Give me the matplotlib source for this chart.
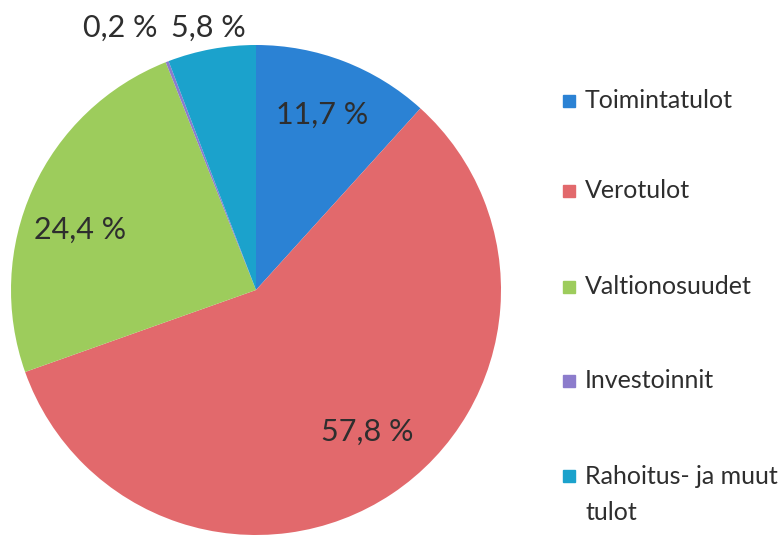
import numpy as np
import matplotlib.pyplot as plt
from matplotlib.patches import Rectangle

labels = ["Toimintatulot", "Verotulot", "Valtionosuudet", "Investoinnit",
          "Rahoitus- ja muut\ntulot"]
values = [11.7, 57.8, 24.4, 0.2, 5.8]
pct_text = ["11,7 %", "57,8 %", "24,4 %", "0,2 %", "5,8 %"]
colors = ['#2b82d4', '#e2696c', '#9dcc5c', '#8c7ccc', '#1ba2cc']

# where each percentage sits (pie data coords, radius = 1)
label_pos = [(0.27, 0.714), (0.453, -0.58), (-0.718, 0.245),
             (-0.555, 1.069), (-0.196, 1.069)]

W, H = 784, 535
fig = plt.figure(figsize=(W / 100, H / 100), dpi=100)
plt.rcParams['font.family'] = ['Lato', 'DejaVu Sans']

cx, cy, R = 256, 290, 245
ax = fig.add_axes([(cx - R) / W, (H - cy - R) / H, 2 * R / W, 2 * R / H])
ax.pie(values, colors=colors, startangle=90, counterclock=False, radius=1,
       wedgeprops=dict(linewidth=0))
ax.set_xlim(-1, 1)
ax.set_ylim(-1, 1)
ax.set_aspect('equal')
ax.axis('off')

for t, (x, y) in zip(pct_text, label_pos):
    ax.text(x, y, t, ha='center', va='center', fontsize=22, color='#2e2e2e')

# legend drawn by hand to match spacing
ys = [101, 191, 287, 381, 476]
for lab, c, y in zip(labels, colors, ys):
    fig.patches.append(Rectangle((563 / W, (H - y - 6) / H), 12 / W, 12 / H,
                                 transform=fig.transFigure, color=c))
    if '\n' in lab:
        fig.text(585 / W, (H - y + 11) / H, lab, ha='left', va='top',
                 fontsize=18, color='#2e2e2e', linespacing=1.7,
                 transform=fig.transFigure)
    else:
        fig.text(585 / W, (H - y) / H, lab, ha='left', va='center',
                 fontsize=18, color='#2e2e2e', transform=fig.transFigure)

fig.savefig('out.png', dpi=100)
